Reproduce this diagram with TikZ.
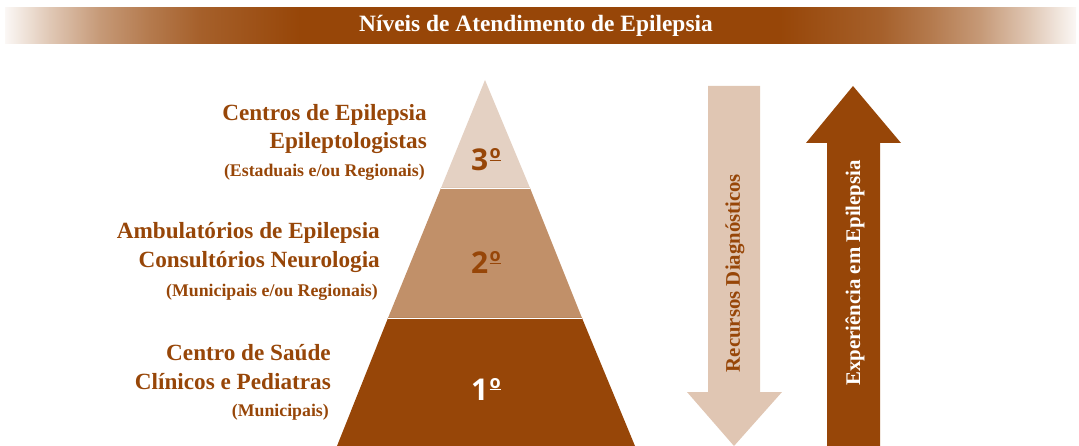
\documentclass[tikz,border=0pt]{standalone}
\usepackage{fontspec}
\setmainfont{Liberation Serif}
\newfontfamily\numfont{Open Sans}
\definecolor{brn}{HTML}{974608}
\definecolor{toplayer}{HTML}{E4D1C3}
\definecolor{midlayer}{HTML}{C19069}
\definecolor{lightarrow}{HTML}{E0C6B3}
\pgfdeclarehorizontalshading{bandfade}{100bp}{color(0bp)=(white); color(25bp)=(brn!4!white); color(27.1bp)=(brn!30!white); color(29.43bp)=(brn!55!white); color(31.77bp)=(brn!72!white); color(34.1bp)=(brn!86!white); color(38.77bp)=(brn); color(61.18bp)=(brn); color(65.85bp)=(brn!86!white); color(68.19bp)=(brn!72!white); color(70.52bp)=(brn!55!white); color(72.85bp)=(brn!30!white); color(75bp)=(brn!4!white); color(100bp)=(white)}
\newcommand{\ordn}[1]{#1\kern1.5pt\raisebox{12pt}{\fontsize{18}{18}\selectfont\underline{o}}}
\tikzset{
  biglbl/.style={anchor=east, text=brn, inner sep=0pt, font=\bfseries\fontsize{23.2}{26}\selectfont},
  smalllbl/.style={anchor=east, text=brn, inner sep=0pt, font=\bfseries\fontsize{17.8}{20}\selectfont},
  numlbl/.style={inner sep=0pt, font=\numfont\bfseries\fontsize{30}{32}\selectfont},
  arrowlbl/.style={rotate=90, inner sep=0pt, font=\bfseries\fontsize{20.8}{22}\selectfont},
  sep/.style={draw=white, line width=0.7pt}
}
\begin{document}
\begin{tikzpicture}[x=1pt,y=-1pt]
\useasboundingbox (0,0) rectangle (1079,446);
% title band
\shade[shading=bandfade] (5,8) rectangle (1076,44);
\node[text=white, font=\bfseries\fontsize{23.4}{26}\selectfont] (title) at (536,26) {Níveis de Atendimento de Epilepsia};
% pyramid
\fill[toplayer] (485,80) -- (530,188) -- (441,188) -- cycle;
\fill[midlayer] (441,188) -- (530,188) -- (582,318) -- (388,318) -- cycle;
\fill[brn] (388,318) -- (582,318) -- (635,446) -- (337,446) -- cycle;
\draw[sep] (441,188) -- (530,188);
\draw[sep] (388,318) -- (582,318);
\node[numlbl, text=brn, anchor=base] (n3) at (486,171) {\ordn{3}};
\node[numlbl, text=brn, anchor=base] (n2) at (486,274) {\ordn{2}};
\node[numlbl, text=white, anchor=base] (n1) at (486,400) {\ordn{1}};
% labels
\node[biglbl] (l3a) at (427,115) {Centros de Epilepsia};
\node[biglbl] (l3b) at (427,143) {Epileptologistas};
\node[smalllbl] (l3c) at (425,172) {(Estaduais e/ou Regionais)};
\node[biglbl] (l2a) at (380,233) {Ambulatórios de Epilepsia};
\node[biglbl] (l2b) at (380,262) {Consultórios Neurologia};
\node[smalllbl] (l2c) at (378,292) {(Municipais e/ou Regionais)};
\node[biglbl] (l1a) at (331,353) {Centro de Saúde};
\node[biglbl] (l1b) at (331,382) {Clínicos e Pediatras};
\node[smalllbl] (l1c) at (329,412) {(Municipais)};
% arrows
\fill[lightarrow] (708,86) -- (760,86) -- (760,392) -- (782,392) -- (734,446) -- (687,392) -- (708,392) -- cycle;
\fill[brn] (827,446) -- (827,143) -- (806,143) -- (853,86) -- (901,143) -- (880,143) -- (880,446) -- cycle;
\node[arrowlbl, text=brn] (rd) at (735,273) {Recursos Diagnósticos};
\node[arrowlbl, text=white] (ee) at (855,273) {Experiência em Epilepsia};
\end{tikzpicture}
\end{document}
